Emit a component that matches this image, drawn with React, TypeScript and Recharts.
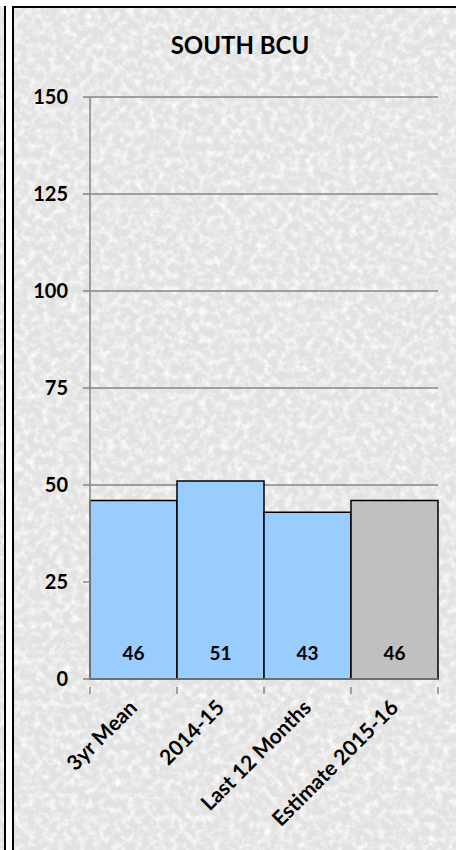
import { BarChart, Bar, XAxis, YAxis, CartesianGrid, Cell, LabelList } from 'recharts';

const categories = ['3yr Mean', '2014-15', 'Last 12 Months', 'Estimate 2015-16'];
const values = [46, 51, 43, 46];
const barColors = ['#99ccff', '#99ccff', '#99ccff', '#c0c0c0'];
const yTicks = [0, 25, 50, 75, 100, 125, 150];

const data = categories.map((name, i) => ({ name, value: values[i] }));

const FONT = "Lato, 'Open Sans', sans-serif";
const AXIS_GREY = '#868686';

// category labels sit under the band centre, tick marks go on the band edges
function CategoryTick(props: any) {
  const { x, y, payload, index, width, visibleTicksCount } = props;
  const count = visibleTicksCount || categories.length;
  const band = width ? width / count : (payload?.offset || 0) * 2;
  const left = x - band / 2;
  const right = x + band / 2;
  const tx = x + 5;
  const ty = y + 22;
  return (
    <g>
      <line x1={left} y1={y} x2={left} y2={y + 7} stroke={AXIS_GREY} strokeWidth={1.5} />
      {index === count - 1 && (
        <line x1={right} y1={y} x2={right} y2={y + 7} stroke={AXIS_GREY} strokeWidth={1.5} />
      )}
      <text
        x={tx}
        y={ty}
        transform={`rotate(-45, ${tx}, ${ty})`}
        textAnchor="end"
        fill="#000"
        fontSize={21}
        fontWeight={700}
        fontFamily={FONT}
      >
        {payload.value}
      </text>
    </g>
  );
}

function Texture() {
  return (
    <svg width={480} height={870} style={{ position: 'absolute', left: 0, top: 0 }}>
      <defs>
        <filter id="paper" x="0" y="0" width="100%" height="100%">
          <feTurbulence type="fractalNoise" baseFrequency="0.14" numOctaves={3} seed={7} />
          <feColorMatrix
            type="matrix"
            values="0 0 0 0 0.98  0 0 0 0 0.98  0 0 0 0 0.98  2.2 0 0 0 -0.9"
          />
        </filter>
      </defs>
      <rect x={0} y={0} width={480} height={870} fill="#e2e2e2" />
      <rect x={0} y={0} width={480} height={870} filter="url(#paper)" />
    </svg>
  );
}

export default function App() {
  return (
    <div style={{ position: 'absolute', left: 0, top: 0, width: 456, height: 850, background: '#fff', overflow: 'hidden' }}>
      {/* neighbouring panel edge */}
      <div style={{ position: 'absolute', left: -20, top: 6, width: 24, height: 860, overflow: 'hidden', borderRight: '2px solid #000' }}>
        <Texture />
      </div>
      {/* main panel */}
      <div style={{ position: 'absolute', left: 12, top: 6, width: 460, height: 860, overflow: 'hidden', borderLeft: '2px solid #000', borderTop: '2px solid #000' }}>
        <Texture />
      </div>

      <div
        style={{
          position: 'absolute',
          left: 140,
          width: 200,
          top: 30,
          textAlign: 'center',
          fontFamily: FONT,
          fontWeight: 700,
          fontSize: 24,
          color: '#000',
        }}
      >
        SOUTH BCU
      </div>

      <div style={{ position: 'absolute', left: 0, top: 0 }}>
        <BarChart
          width={456}
          height={850}
          data={data}
          margin={{ top: 97, right: 18, bottom: 51, left: 30 }}
          barCategoryGap={0}
        >
          <CartesianGrid horizontal vertical={false} stroke={AXIS_GREY} strokeWidth={1.5} />
          <XAxis
            dataKey="name"
            interval={0}
            height={120}
            tickLine={false}
            axisLine={{ stroke: AXIS_GREY, strokeWidth: 1.5 }}
            tick={<CategoryTick />}
          />
          <YAxis
            domain={[0, 150]}
            ticks={yTicks}
            interval={0}
            width={60}
            tickSize={7}
            tickMargin={15}
            axisLine={{ stroke: AXIS_GREY, strokeWidth: 1.5 }}
            tickLine={{ stroke: AXIS_GREY, strokeWidth: 1.5 }}
            tick={{ fill: '#000', fontSize: 20, fontWeight: 700, fontFamily: FONT }}
          />
          <Bar dataKey="value" stroke="#000" strokeWidth={1.5} isAnimationActive={false}>
            {data.map((d, i) => (
              <Cell key={d.name} fill={barColors[i]} />
            ))}
            <LabelList
              dataKey="value"
              position="insideBottom"
              offset={19}
              fill="#000"
              fontSize={19}
              fontWeight={700}
              fontFamily={FONT}
            />
          </Bar>
        </BarChart>
      </div>
    </div>
  );
}
